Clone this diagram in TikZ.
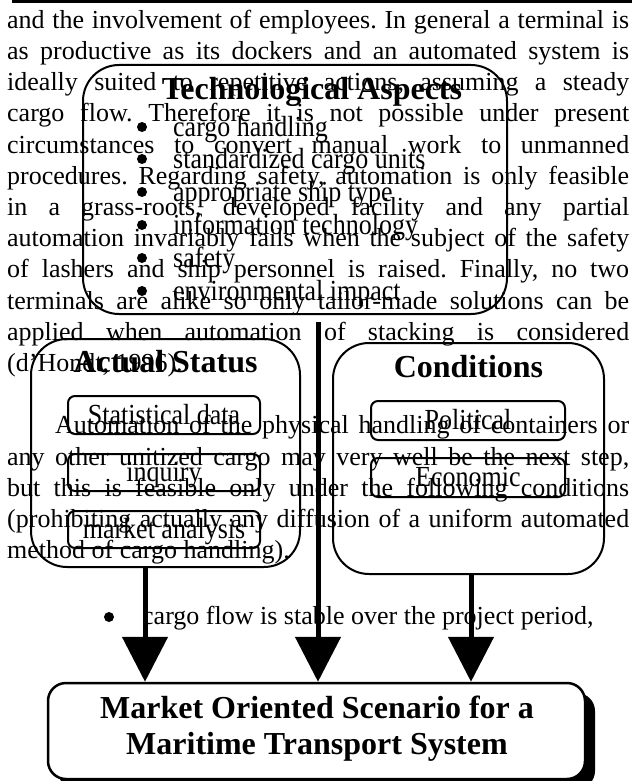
\documentclass[tikz,border=0pt]{standalone}
\usepackage{fontspec}
\setmainfont{Liberation Serif}
\usetikzlibrary{arrows.meta}
\frenchspacing
\begin{document}
\begin{tikzpicture}[x=1pt,y=-1pt,
  bodyline/.style={anchor=base west, inner sep=0pt, font=\fontsize{26}{31}\selectfont},
  bigbox/.style={draw, line width=2pt, rounded corners=36pt, inner sep=0pt},
  smallbox/.style={draw, line width=2pt, rounded corners=7pt, inner sep=0pt,
    text height=18pt, text depth=0pt, font=\fontsize{26}{31}\selectfont},
  boxtitle/.style={anchor=base, inner sep=0pt, font=\fontsize{32}{36}\selectfont\bfseries},
  itemline/.style={anchor=base west, inner sep=0pt, font=\fontsize{26}{31}\selectfont},
  dot/.style={circle, fill, inner sep=0pt, minimum size=10pt},
  flow/.style={line width=5pt, -{Triangle[length=45pt, width=45pt]}}
]
\useasboundingbox (0,0) rectangle (632,781);

% top rule
\draw[line width=3pt] (12,1.5) -- (632,1.5);

% body text
\node[bodyline] (l0) at (7,28.2) {\makebox[622pt][s]{and the involvement of employees. In general a terminal is}};
\node[bodyline] (l1) at (7,59.4) {\makebox[622pt][s]{as productive as its dockers and an automated system is}};
\node[bodyline] (l2) at (7,90.6) {\makebox[622pt][s]{ideally suited to repetitive actions, assuming a steady}};
\node[bodyline] (l3) at (7,121.8) {\makebox[622pt][s]{cargo flow. Therefore it is not possible under present}};
\node[bodyline] (l4) at (7,153) {\makebox[622pt][s]{circumstances to convert manual work to unmanned}};
\node[bodyline] (l5) at (7,184.2) {\makebox[622pt][s]{procedures. Regarding safety, automation is only feasible}};
\node[bodyline] (l6) at (7,215.4) {\makebox[622pt][s]{in a grass-roots, developed facility and any partial}};
\node[bodyline] (l7) at (7,246.6) {\makebox[622pt][s]{automation invariably fails when the subject of the safety}};
\node[bodyline] (l8) at (7,277.8) {\makebox[622pt][s]{of lashers and ship personnel is raised. Finally, no two}};
\node[bodyline] (l9) at (7,309) {\makebox[622pt][s]{terminals are alike so only tailor-made solutions can be}};
\node[bodyline] (l10) at (7,340.2) {\makebox[622pt][s]{applied when automation of stacking is considered}};
\node[bodyline] (l11) at (7,371.4) {(d'Hondt, 1996).};
\node[bodyline] (l13) at (55,433.8) {\makebox[574pt][s]{Automation of the physical handling of containers or}};
\node[bodyline] (l14) at (7,465) {\makebox[622pt][s]{any other unitized cargo may very well be the next step,}};
\node[bodyline] (l15) at (7,496.2) {\makebox[622pt][s]{but this is feasible only under the following conditions}};
\node[bodyline] (l16) at (7,527.4) {\makebox[622pt][s]{(prohibiting actually any diffusion of a uniform automated}};
\node[bodyline] (l17) at (7,558.6) {method of cargo handling).};
\node[dot] (l19b) at (109,617) {};
\node[bodyline] (l19) at (142,624) {cargo flow is stable over the project period,};

% Technological Aspects box
\node[bigbox, minimum width=424pt, minimum height=249pt] (tech) at (295,189.5) {};
\node[boxtitle] (techt) at (312,100) {Technological Aspects};
\node[dot] (d1) at (142,127) {};
\node[dot] (d2) at (142,159) {};
\node[dot] (d3) at (142,192) {};
\node[dot] (d4) at (142,225) {};
\node[dot] (d5) at (142,258) {};
\node[dot] (d6) at (142,291) {};
\node[itemline] (t1) at (173,136) {\scalebox{1}[1.12]{cargo handling}};
\node[itemline] (t2) at (173,168) {\scalebox{1}[1.12]{standardized cargo units}};
\node[itemline] (t3) at (173,201) {\scalebox{1}[1.12]{appropriate ship type}};
\node[itemline] (t4) at (173,234) {\scalebox{1}[1.12]{information technology}};
\node[itemline] (t5) at (173,267) {\scalebox{1}[1.12]{safety}};
\node[itemline] (t6) at (173,300) {\scalebox{1}[1.12]{environmental impact}};

% Actual Status box
\node[bigbox, minimum width=269pt, minimum height=228pt] (actual) at (165.5,453) {};
\node[boxtitle] (actualt) at (165.5,372) {Actual Status};
\node[smallbox, minimum width=192pt, minimum height=38pt] (stat) at (164,415) {\scalebox{1}[1.12]{Statistical data}};
\node[smallbox, minimum width=192pt, minimum height=37pt] (inq) at (164,472.5) {\scalebox{1}[1.12]{inquiry}};
\node[smallbox, minimum width=192pt, minimum height=37pt] (mkt) at (164,529.5) {\scalebox{1}[1.12]{market analysis}};

% Conditions box
\node[bigbox, minimum width=271pt, minimum height=231pt] (cond) at (468.5,458.5) {};
\node[boxtitle] (condt) at (468.5,377) {Conditions};
\node[smallbox, minimum width=194pt, minimum height=39pt] (pol) at (468,420.5) {\scalebox{1}[1.12]{Political}};
\node[smallbox, minimum width=194pt, minimum height=39pt] (eco) at (468,477.5) {\scalebox{1}[1.12]{Economic}};

% Main box with shadow
\fill[rounded corners=18pt] (58,693) rectangle (595,789);
\node[draw, fill=white, line width=2.5pt, rounded corners=18pt, inner sep=0pt,
  minimum width=537pt, minimum height=96pt] (main) at (316.5,731) {};
\node[boxtitle] (mt1) at (317,718) {Market Oriented Scenario for a};
\node[boxtitle] (mt2) at (317,754) {Maritime Transport System};

% arrows
\coordinate (lx) at (145,0);
\coordinate (rx) at (471,0);
\coordinate (mtop) at (318,322);
\draw[flow] (actual.south -| lx) -- (main.north -| lx);
\draw[flow] (mtop) -- (main.north -| mtop);
\draw[flow] (cond.south -| rx) -- (main.north -| rx);
\end{tikzpicture}
\end{document}
